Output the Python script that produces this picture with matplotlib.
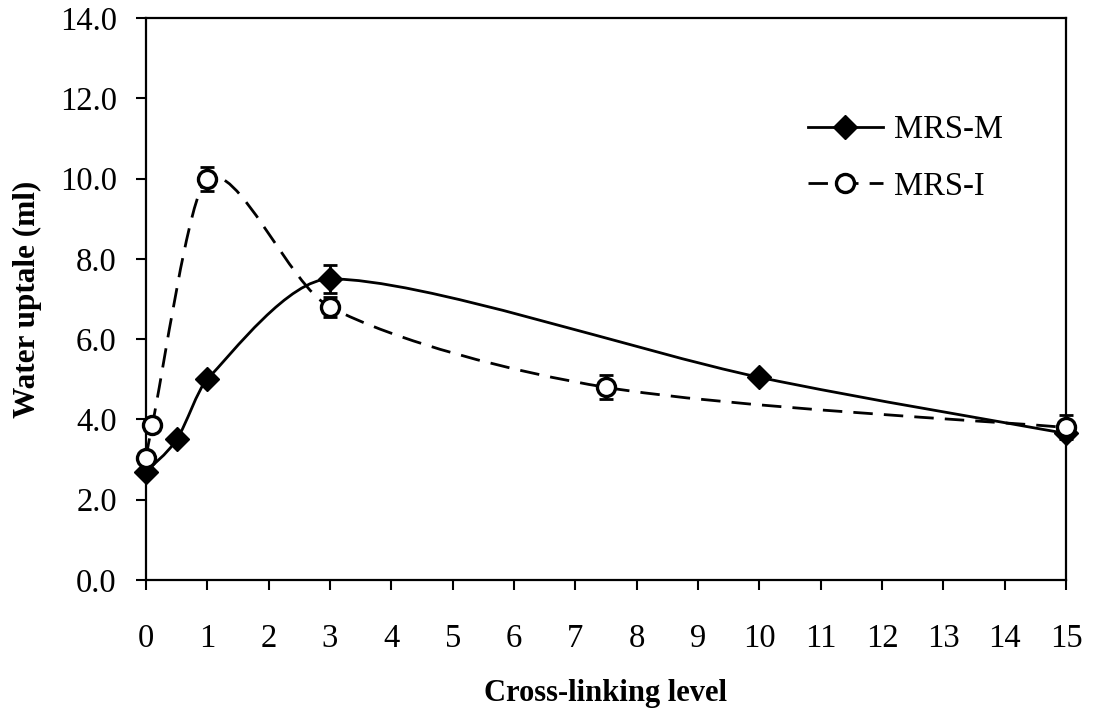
import numpy as np
import matplotlib
matplotlib.use("Agg")
import matplotlib.pyplot as plt
from matplotlib.path import Path
from matplotlib.patches import PathPatch
from matplotlib.lines import Line2D

plt.rcParams['font.family'] = ['Liberation Serif', 'DejaVu Serif']

# cross-linking level vs water uptake
x_m = [0, 0.5, 1, 3, 10, 15]
y_m = [2.7, 3.5, 5.0, 7.5, 5.05, 3.65]
e_m = [0.05, 0.05, 0.1, 0.35, 0.1, 0.1]

x_i = [0, 0.1, 1, 3, 7.5, 15]
y_i = [3.05, 3.85, 10.0, 6.8, 4.8, 3.8]
e_i = [0.1, 0.1, 0.3, 0.25, 0.3, 0.3]

xticks = list(range(16))
yticks = [0, 2, 4, 6, 8, 10, 12, 14]


def smooth_path(x, y, t=1/6):
    # smoothed line: cubic bezier through every point,
    # handles shortened so they stay inside their segment in x
    pts = np.column_stack([x, y]).astype(float)
    n = len(pts)
    verts = [pts[0]]
    codes = [Path.MOVETO]
    for i in range(n - 1):
        p0 = pts[i - 1] if i > 0 else pts[i]
        p1 = pts[i]
        p2 = pts[i + 1]
        p3 = pts[i + 2] if i + 2 < n else pts[i + 1]
        lim = (p2[0] - p1[0]) / 3
        d1 = (p2 - p0) * t
        d2 = (p3 - p1) * t
        if d1[0] > lim:
            d1 *= lim / d1[0]
        if d2[0] > lim:
            d2 *= lim / d2[0]
        verts += [p1 + d1, p2 - d2, p2]
        codes += [Path.CURVE4] * 3
    return Path(verts, codes)


fig = plt.figure(figsize=(10.95, 7.12), dpi=100)
ax = fig.add_axes([0.1333, 0.1854, 0.8402, 0.7893])

dash = (0, (7, 4))
ax.add_patch(PathPatch(smooth_path(x_m, y_m), fill=False, lw=2, ec='black', zorder=2))
ax.add_patch(PathPatch(smooth_path(x_i, y_i), fill=False, lw=2, ec='black',
                       linestyle=dash, zorder=2))

ax.errorbar(x_m, y_m, yerr=e_m, fmt='none', ecolor='black', elinewidth=2,
            capsize=5, capthick=2, zorder=3, clip_on=False)
ax.errorbar(x_i, y_i, yerr=e_i, fmt='none', ecolor='black', elinewidth=2,
            capsize=5, capthick=2, zorder=3, clip_on=False)
ax.plot(x_m, y_m, linestyle='none', marker='D', ms=12, color='black', zorder=4, clip_on=False)
ax.plot(x_i, y_i, linestyle='none', marker='o', ms=13, mfc='white', mec='black',
        mew=2.4, zorder=5, clip_on=False)

ax.set_xlim(0, 15)
ax.set_ylim(0, 14)
ax.set_xticks(xticks)
ax.set_yticks(yticks)
ax.set_yticklabels([f'{v:.1f}' for v in yticks])
ax.tick_params(direction='out', length=7, width=1.5, labelsize=23.5)
ax.tick_params(axis='y', pad=14)
ax.tick_params(axis='x', pad=24)
for s in ax.spines.values():
    s.set_linewidth(1.6)

ax.set_xlabel('Cross-linking level', fontsize=22, fontweight='bold', labelpad=18)
ax.set_ylabel('Water uptale (ml)', fontsize=22.5, fontweight='bold', labelpad=13)

handles = [
    Line2D([], [], color='black', lw=2, marker='D', ms=12),
    Line2D([], [], color='black', lw=2, linestyle=dash, marker='o', ms=13,
           mfc='white', mec='black', mew=2.4),
]
ax.legend(handles, ['MRS-M', 'MRS-I'], loc='upper left', bbox_to_anchor=(0.705, 0.851),
          frameon=False, fontsize=23.5, handlelength=2.3, handletextpad=0.35,
          labelspacing=0.8, borderaxespad=0)

fig.savefig('out.png', dpi=100)
